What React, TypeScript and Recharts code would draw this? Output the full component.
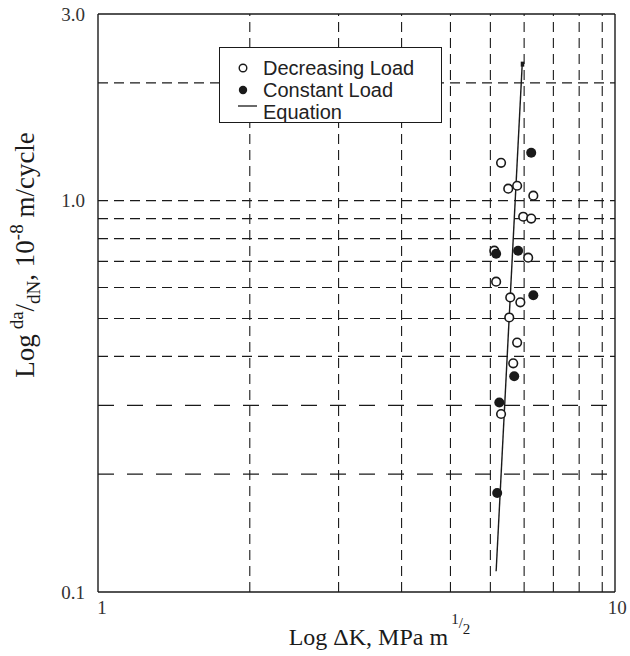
import { Legend, ReferenceLine, Scatter, ScatterChart, XAxis, YAxis } from "recharts";

// ΔK (MPa m^1/2) and da/dN (10^-8 m/cycle)
const decreasingK = [6.3, 6.51, 6.78, 7.3, 6.97, 7.23, 6.11, 7.13, 6.16, 6.57, 6.88, 6.54, 6.78, 6.66, 6.3];
const decreasingRate = [1.25, 1.073, 1.092, 1.03, 0.91, 0.9, 0.745, 0.715, 0.621, 0.566, 0.55, 0.503, 0.434, 0.384, 0.285];
const constantK = [7.23, 6.16, 6.81, 7.3, 6.69, 6.25, 6.19];
const constantRate = [1.326, 0.732, 0.745, 0.573, 0.356, 0.305, 0.179];
const equationK = [6.16, 6.94];
const equationRate = [0.113, 2.24];

const xTicks = [1, 10];
const yTicks = [0.1, 1, 3];
const xGrid = [2, 3, 4, 5, 6, 7, 8, 9, 10];
const yGridFine = [0.4, 0.5, 0.6, 0.7, 0.8, 0.9, 1, 2];
const yGridCoarse = [0.2, 0.3];

const SERIF = "'Liberation Serif', 'Times New Roman', serif";
const SANS = "'Liberation Sans', Arial, sans-serif";
const INK = "#1a1a1a";

const toPoints = (ks: number[], rates: number[]) => ks.map((k, i) => ({ k, rate: rates[i] }));

const decreasing = toPoints(decreasingK, decreasingRate);
const constant = toPoints(constantK, constantRate);
const equation = toPoints(equationK, equationRate);

function OpenDot(p: any) {
  return <circle cx={p.cx} cy={p.cy} r={4.3} fill="#fff" stroke={INK} strokeWidth={1.6} />;
}

function FilledDot(p: any) {
  return <circle cx={p.cx} cy={p.cy} r={5} fill={INK} />;
}

// nur das obere Ende der Geraden bekommt den kleinen Block
function EquationEnd(p: any) {
  if (p.index !== equation.length - 1) return <g />;
  return <rect x={p.cx - 1.5} y={p.cy - 2} width={3.5} height={5} fill={INK} />;
}

function XTick({ x, y, payload }: any) {
  const dx = payload.value === 10 ? 15 : 4;
  return (
    <text x={x + dx} y={y + 14} textAnchor="middle" fontFamily={SERIF} fontSize={19} fill="#333">
      {payload.value}
    </text>
  );
}

function XTitle({ viewBox }: any) {
  const cx = viewBox.x + viewBox.width / 2 + 23;
  const y = viewBox.y + 53;
  return (
    <text x={cx} y={y} textAnchor="middle" fontFamily={SERIF} fontSize={24} fill={INK}>
      Log ΔK, MPa m
      <tspan dx={3} dy={-21} fontSize={15}>1</tspan>
      <tspan dy={4} fontSize={15}>/</tspan>
      <tspan dy={6} fontSize={15}>2</tspan>
    </text>
  );
}

function YTitle({ viewBox }: any) {
  const x = viewBox.x + 34;
  const y = viewBox.y + viewBox.height / 2 - 48;
  return (
    <text
      transform={`translate(${x},${y}) rotate(-90)`}
      textAnchor="middle"
      fontFamily={SERIF}
      fontSize={27}
      fill={INK}
    >
      Log
      <tspan dx={5} dy={-11} fontSize={19}>da</tspan>
      <tspan dy={11}>/</tspan>
      <tspan dy={6} fontSize={19}>dN</tspan>
      <tspan dy={-6}>, 10</tspan>
      <tspan dy={-11} fontSize={19}>-8</tspan>
      <tspan dy={11}> m/cycle</tspan>
    </text>
  );
}

function LegendBox({ payload }: any) {
  const items = (payload || []) as any[];
  return (
    <div
      style={{
        width: 223,
        height: 76,
        boxSizing: "border-box",
        border: `1.4px solid ${INK}`,
        background: "#fff",
        paddingTop: 9,
        fontFamily: SANS,
        fontSize: 20,
        color: "#222",
        whiteSpace: "nowrap",
      }}
    >
      {items.map((item, i) => (
        <div key={item.value} style={{ display: "flex", alignItems: "center", height: 22 }}>
          <svg width={43} height={22} style={{ flex: "none" }}>
            {i === 0 && <circle cx={23} cy={11} r={3.8} fill="#fff" stroke={INK} strokeWidth={1.4} />}
            {i === 1 && <circle cx={23} cy={11} r={4.2} fill={INK} />}
            {i === 2 && <line x1={18} x2={37} y1={5} y2={5} stroke={INK} strokeWidth={1.3} />}
          </svg>
          <span>{item.value}</span>
        </div>
      ))}
    </div>
  );
}

export default function App() {
  return (
    <div style={{ position: "absolute", left: 0, top: 0, width: 630, height: 656, background: "#fff" }}>
      <ScatterChart width={630} height={656} margin={{ top: 14, right: 15, bottom: 0, left: 0 }}>
        <XAxis
          type="number"
          dataKey="k"
          scale="log"
          domain={[1, 10.6]}
          allowDataOverflow
          ticks={xTicks}
          tick={<XTick />}
          tickLine={false}
          axisLine={{ stroke: INK, strokeWidth: 1.4 }}
          height={64}
          label={{ content: <XTitle /> }}
        />
        <YAxis
          type="number"
          dataKey="rate"
          scale="log"
          domain={[0.1, 3]}
          allowDataOverflow
          ticks={yTicks}
          tickFormatter={(v: number) => v.toFixed(1)}
          tick={{ fontFamily: SERIF, fontSize: 19, fill: "#333" }}
          tickLine={false}
          tickMargin={7}
          axisLine={{ stroke: INK, strokeWidth: 1.4 }}
          width={98}
          label={{ content: <YTitle /> }}
        />
        {xGrid.map((v) => (
          <ReferenceLine key={"x" + v} x={v} stroke={INK} strokeWidth={1.1} strokeDasharray="10 6" />
        ))}
        {yGridFine.map((v) => (
          <ReferenceLine key={"y" + v} y={v} stroke={INK} strokeWidth={1.2} strokeDasharray="10 6" />
        ))}
        {yGridCoarse.map((v) => (
          <ReferenceLine key={"yc" + v} y={v} stroke={INK} strokeWidth={1.2} strokeDasharray="16 13" />
        ))}
        <ReferenceLine y={3} stroke={INK} strokeWidth={1.4} />
        <ReferenceLine x={10.6} stroke={INK} strokeWidth={1.4} />
        <Scatter
          name="Equation"
          data={equation}
          line={{ stroke: INK, strokeWidth: 1.4 }}
          shape={<EquationEnd />}
          legendType="line"
          isAnimationActive={false}
        />
        <Scatter name="Decreasing Load" data={decreasing} shape={<OpenDot />} isAnimationActive={false} />
        <Scatter name="Constant Load" data={constant} shape={<FilledDot />} isAnimationActive={false} />
        <Legend
          layout="vertical"
          align="center"
          verticalAlign="middle"
          content={(props: any) => {
            const order = ["Decreasing Load", "Constant Load", "Equation"];
            const items = [...(props.payload || [])].sort(
              (a: any, b: any) => order.indexOf(a.value) - order.indexOf(b.value)
            );
            return <LegendBox payload={items} />;
          }}
          wrapperStyle={{ left: 219, top: 47, width: 223, height: 76 }}
        />
      </ScatterChart>
    </div>
  );
}
